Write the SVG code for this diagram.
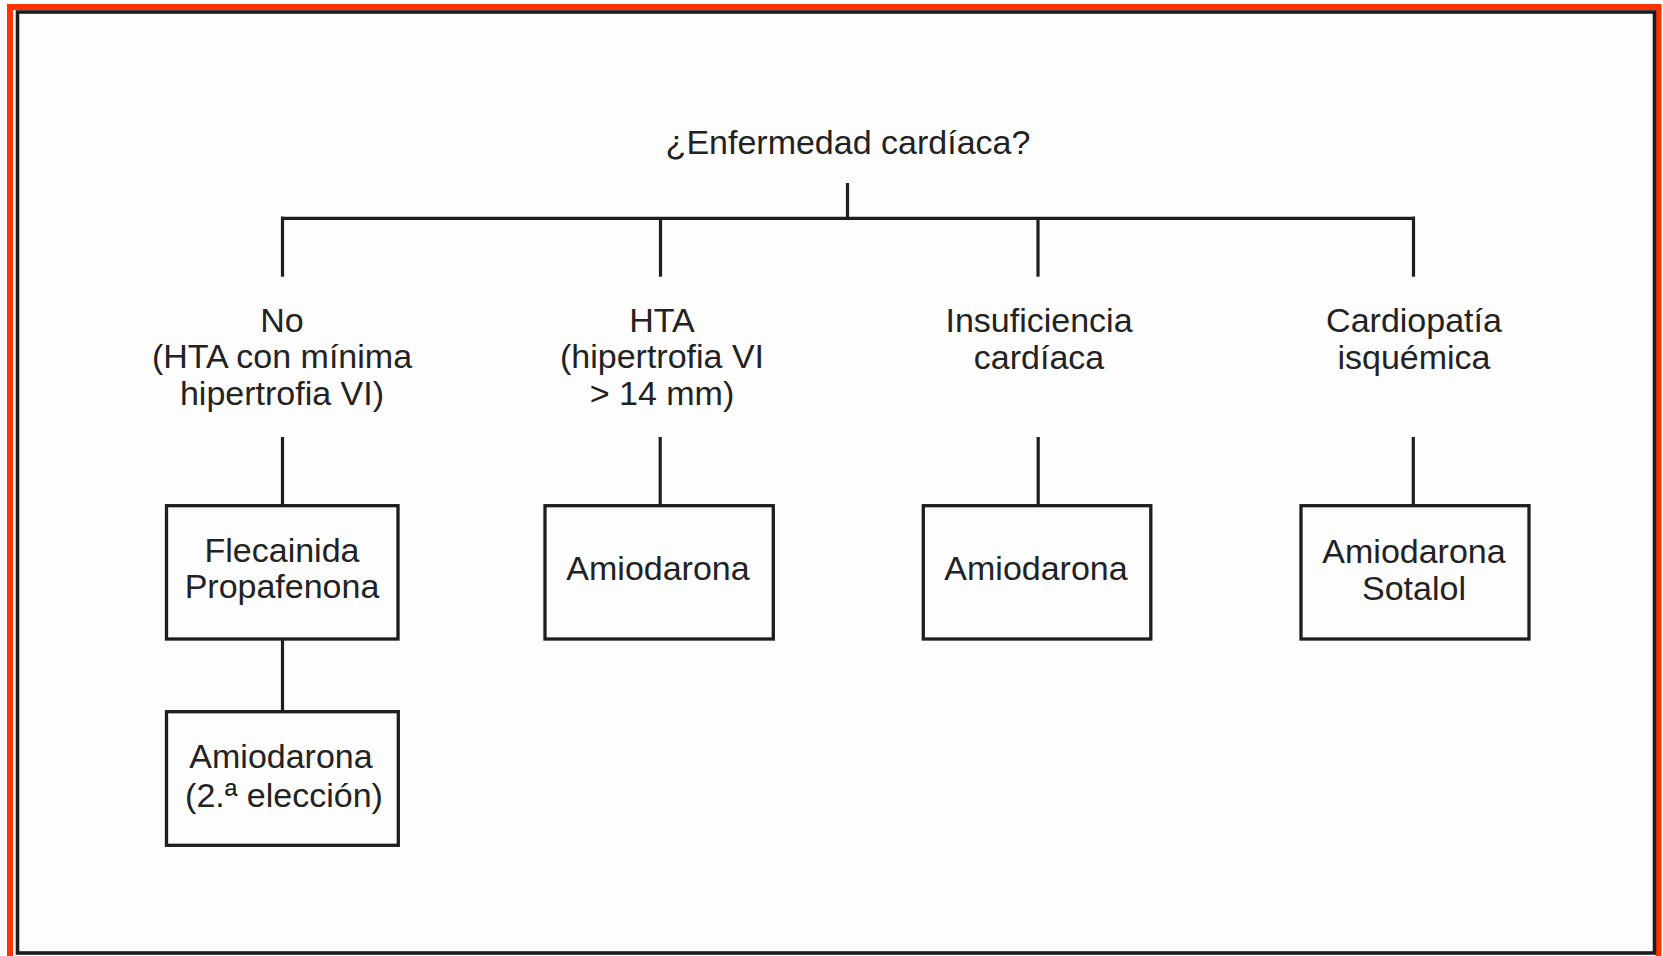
<svg xmlns="http://www.w3.org/2000/svg" width="1663" height="956" viewBox="0 0 1663 956">
  <style>
    .t { font-family: "Liberation Sans", Arial, sans-serif; font-size: 34px; fill: #222; text-anchor: middle; }
    .box { fill: none; stroke: #1e1e1e; stroke-width: 3.3; }
    .ln { stroke: #1e1e1e; stroke-width: 3.2; fill: none; }
  </style>
  <rect x="0" y="0" width="1663" height="956" fill="#ffffff"/>
  <rect id="frame-red" x="10" y="7" width="1648.5" height="960" fill="#fdfdfd" stroke="#ff3300" stroke-width="6"/>
  <rect id="frame-black" x="17.5" y="12" width="1637" height="941" fill="#fdfdfd" stroke="#1c1c1c" stroke-width="3.6"/>

  <g id="connectors">
    <line class="ln" x1="847.5" y1="183" x2="847.5" y2="218.3"/>
    <line class="ln" x1="281" y1="218.3" x2="1415" y2="218.3"/>
    <line class="ln" x1="282.5" y1="216.7" x2="282.5" y2="276.7"/>
    <line class="ln" x1="660.5" y1="218.3" x2="660.5" y2="276.7"/>
    <line class="ln" x1="1038" y1="218.3" x2="1038" y2="276.7"/>
    <line class="ln" x1="1413.5" y1="216.7" x2="1413.5" y2="276.7"/>
    <line class="ln" x1="282.5" y1="437" x2="282.5" y2="505.7"/>
    <line class="ln" x1="660.2" y1="437" x2="660.2" y2="505.7"/>
    <line class="ln" x1="1038.2" y1="437" x2="1038.2" y2="505.7"/>
    <line class="ln" x1="1413.3" y1="437" x2="1413.3" y2="505.7"/>
    <line class="ln" x1="282.5" y1="639" x2="282.5" y2="711.7"/>
  </g>

  <g id="root">
    <text class="t" x="848" y="153.5">¿Enfermedad cardíaca?</text>
  </g>

  <g id="label-no">
    <text class="t" x="282" y="331.7">No</text>
    <text class="t" x="282" y="368.3">(HTA con mínima</text>
    <text class="t" x="282" y="405">hipertrofia VI)</text>
  </g>
  <g id="label-hta">
    <text class="t" x="662" y="331.7">HTA</text>
    <text class="t" x="662" y="368.3">(hipertrofia VI</text>
    <text class="t" x="662" y="405">&gt; 14 mm)</text>
  </g>
  <g id="label-ic">
    <text class="t" x="1039" y="331.7">Insuficiencia</text>
    <text class="t" x="1039" y="369">cardíaca</text>
  </g>
  <g id="label-ci">
    <text class="t" x="1414" y="331.7">Cardiopatía</text>
    <text class="t" x="1414" y="369">isquémica</text>
  </g>

  <g id="box-flecainida">
    <rect class="box" x="166.5" y="505.7" width="231.5" height="133.3"/>
    <text class="t" x="282" y="561.7">Flecainida</text>
    <text class="t" x="282" y="598.3">Propafenona</text>
  </g>
  <g id="box-amio-hta">
    <rect class="box" x="545" y="505.7" width="228.3" height="133.3"/>
    <text class="t" x="658" y="580">Amiodarona</text>
  </g>
  <g id="box-amio-ic">
    <rect class="box" x="923.3" y="505.7" width="227.5" height="133.3"/>
    <text class="t" x="1036" y="580">Amiodarona</text>
  </g>
  <g id="box-amio-sotalol">
    <rect class="box" x="1301" y="505.7" width="228" height="133.3"/>
    <text class="t" x="1414" y="563.3">Amiodarona</text>
    <text class="t" x="1414" y="600">Sotalol</text>
  </g>
  <g id="box-amio-2">
    <rect class="box" x="166.5" y="711.7" width="231.8" height="133.6"/>
    <text class="t" x="281" y="768.3">Amiodarona</text>
    <text class="t" x="284" y="806.7">(2.ª elección)</text>
  </g>
</svg>
